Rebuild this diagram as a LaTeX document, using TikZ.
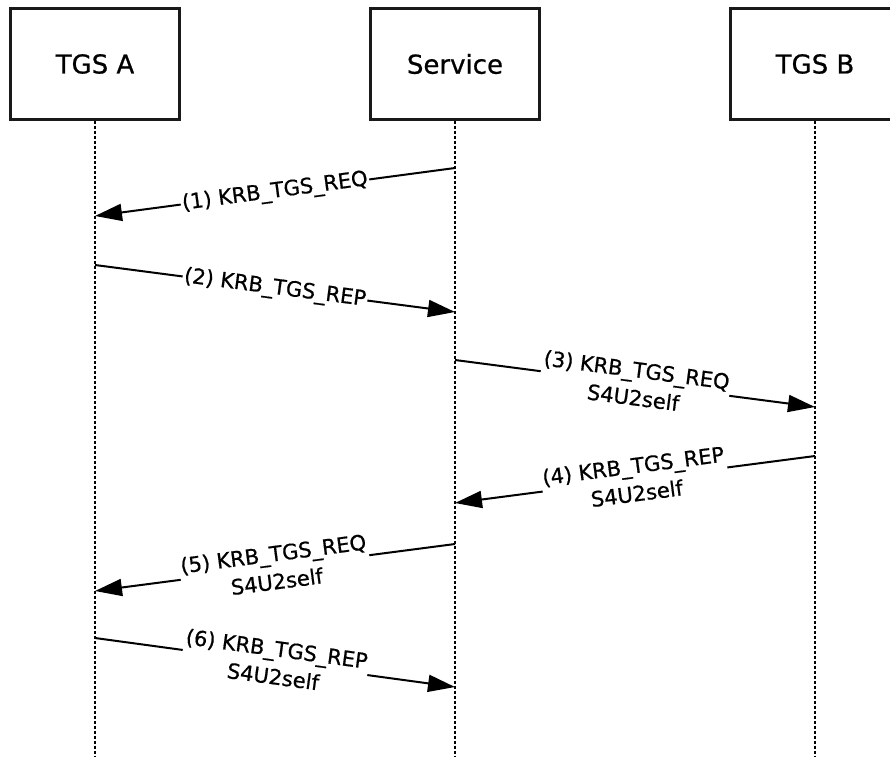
\documentclass[tikz,border=0pt]{standalone}
\usepackage{fontspec}
\setmainfont{DejaVu Sans}
\newfontfamily\diagfont{DejaVu Sans}[FakeBold=0.7]
\usetikzlibrary{arrows.meta}
\tikzset{%
  actor/.style={draw=black!90, line width=2.2pt, minimum width=169pt,
    minimum height=111pt, inner sep=0pt, font=\diagfont\fontsize{26}{30}\selectfont},
  lifeline/.style={black, line width=1.8pt, dash pattern=on 3pt off 2pt},
  msg/.style={line width=2pt, -{Triangle[length=27pt,width=17pt]}},
  msglabel/.style={sloped, fill=white, inner xsep=1.5pt, inner ysep=0pt,
    align=center, font=\diagfont\fontsize{21}{28}\selectfont},
}

\begin{document}
\begin{tikzpicture}[x=1pt,y=-1pt]
  \useasboundingbox (0,0) rectangle (890,757);
  \clip (0,0) rectangle (890,757);
  \coordinate (bottom) at (0,757);

  % the three parties
  \node [actor] (tgsA)    at (95,64)  {TGS A};
  \node [actor] (service) at (455,64) {Service};
  \node [actor] (tgsB)    at (815,64) {TGS B};

  \foreach \who in {tgsA,service,tgsB}
  {
    \draw [lifeline] (\who.south) -- (\who.south |- bottom);
  }

  % message end points on the lifelines
  \coordinate (m1a) at (455,168);  \coordinate (m1b) at (95,216);
  \coordinate (m2a) at (95,265);   \coordinate (m2b) at (455,312);
  \coordinate (m3a) at (455,360);  \coordinate (m3b) at (815,407);
  \coordinate (m4a) at (815,456);  \coordinate (m4b) at (455,503);
  \coordinate (m5a) at (455,544);  \coordinate (m5b) at (95,591);
  \coordinate (m6a) at (95,638);   \coordinate (m6b) at (455,687);

  % messages
  \draw [msg] (m1a) -- node [msglabel] (l1) {(1) KRB\_TGS\_REQ} (m1b);
  \draw [msg] (m2a) -- node [msglabel] (l2) {(2) KRB\_TGS\_REP} (m2b);
  \draw [msg] (m3a) -- node [msglabel] (l3) {(3) KRB\_TGS\_REQ\\S4U2self} (m3b);
  \draw [msg] (m4a) -- node [msglabel] (l4) {(4) KRB\_TGS\_REP\\S4U2self} (m4b);
  \draw [msg] (m5a) -- node [msglabel] (l5) {(5) KRB\_TGS\_REQ\\S4U2self} (m5b);
  \draw [msg] (m6a) -- node [msglabel] (l6) {(6) KRB\_TGS\_REP\\S4U2self} (m6b);
\end{tikzpicture}
\end{document}
